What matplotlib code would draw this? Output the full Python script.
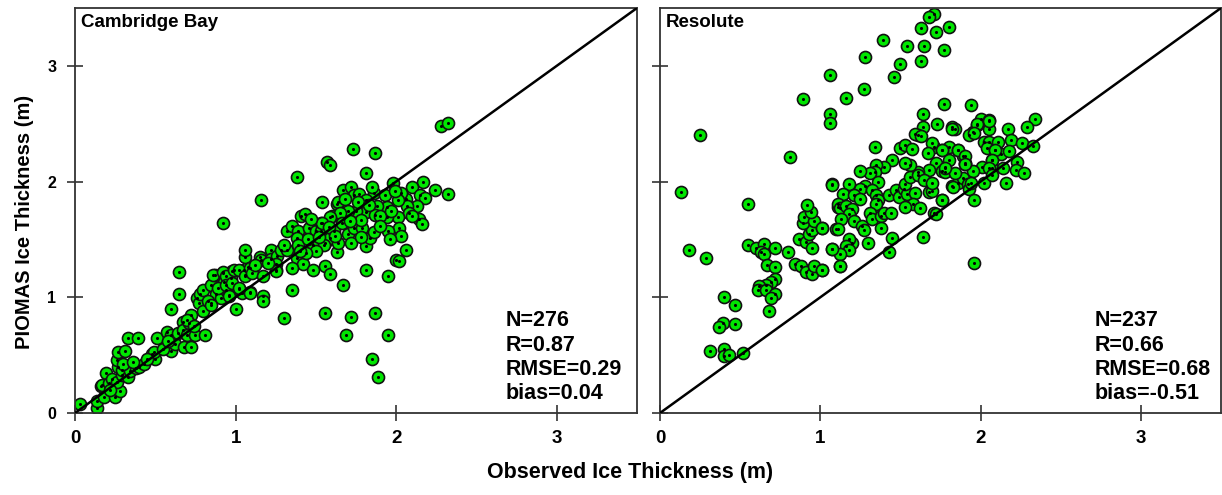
import numpy as np
import matplotlib
matplotlib.use("Agg")
import matplotlib.pyplot as plt

plt.rcParams['font.family'] = ['Liberation Sans', 'DejaVu Sans']
plt.rcParams['font.weight'] = 'bold'

# (observed, PIOMAS) pairs
cambridge = [
    (0.03, 0.08), (0.14, 0.04), (0.14, 0.10), (0.16, 0.23), (0.17, 0.24), (0.19, 0.35), (0.21, 0.26),
    (0.18, 0.14), (0.25, 0.14), (0.28, 0.19), (0.23, 0.29), (0.26, 0.27), (0.29, 0.33), (0.27, 0.40),
    (0.26, 0.46), (0.27, 0.53), (0.31, 0.54), (0.29, 0.37), (0.33, 0.31), (0.34, 0.36), (0.33, 0.65),
    (0.39, 0.65), (0.38, 0.39), (0.40, 0.40), (0.43, 0.42), (0.48, 0.51), (0.50, 0.47), (0.51, 0.65),
    (0.49, 0.53), (0.57, 0.70), (0.60, 0.67), (0.60, 0.54), (0.62, 0.60), (0.60, 0.90), (0.65, 1.03),
    (0.65, 1.22), (0.64, 0.69), (0.67, 0.79), (0.67, 0.72), (0.68, 0.57), (0.72, 0.57), (0.70, 0.67),
    (0.72, 0.85), (0.71, 0.78), (0.75, 0.67), (0.81, 0.67), (0.76, 0.99), (0.77, 0.95), (0.78, 1.03),
    (0.80, 0.88), (0.80, 1.06), (0.85, 1.11), (0.85, 0.95), (0.87, 1.19), (0.88, 1.03), (0.91, 0.99),
    (0.92, 1.21), (0.93, 1.13), (0.94, 1.06), (0.96, 1.02), (0.97, 1.17), (0.98, 1.23), (1.00, 0.90),
    (1.02, 1.07), (1.04, 1.04), (1.05, 1.24), (1.06, 1.19), (1.08, 1.26), (1.09, 1.05), (1.06, 1.35),
    (1.06, 1.41),
    (0.22, 0.20), (0.30, 0.42), (0.36, 0.44), (0.45, 0.47), (0.55, 0.55), (0.58, 0.62), (0.70, 0.80),
    (0.74, 0.75), (0.83, 0.97), (0.89, 1.08),
    (1.38, 2.04), (1.16, 1.84), (0.92, 1.64), (1.15, 1.35), (1.16, 1.32), (1.22, 1.41), (1.22, 1.33),
    (1.26, 1.36), (1.25, 1.29), (1.25, 1.24), (1.28, 1.41), (1.32, 1.41), (1.32, 1.57), (1.35, 1.62),
    (1.39, 1.57), (1.38, 1.51), (1.39, 1.45), (1.38, 1.34), (1.42, 1.29), (1.41, 1.70), (1.43, 1.72),
    (1.46, 1.60), (1.48, 1.45), (1.48, 1.24), (1.50, 1.57), (1.53, 1.64), (1.54, 1.82), (1.53, 1.57),
    (1.56, 1.27), (1.56, 0.86), (1.59, 1.20), (1.56, 1.47), (1.59, 1.51), (1.60, 1.70), (1.63, 1.39),
    (1.63, 1.81), (0.86, 1.19), (0.92, 1.22), (0.94, 1.18), (0.94, 1.11), (0.99, 1.24), (1.02, 1.24),
    (1.06, 1.18), (1.09, 1.25), (1.10, 1.21), (0.98, 1.12), (1.02, 1.08), (1.09, 1.04), (0.96, 1.01),
    (0.85, 0.93), (1.17, 1.18), (1.17, 1.01), (1.17, 0.97), (1.25, 1.23), (1.30, 0.82), (1.35, 1.06),
    (1.73, 2.28), (1.87, 2.25), (1.57, 2.17), (1.59, 2.14), (1.81, 2.07), (1.98, 1.99), (2.17, 2.00),
    (2.24, 1.93), (2.32, 1.89), (2.10, 1.95), (2.15, 1.88), (2.18, 1.86), (2.13, 1.79), (2.14, 1.68),
    (2.16, 1.63), (2.06, 1.85), (2.07, 1.79), (2.08, 1.73), (2.03, 1.90), (2.01, 1.84), (2.01, 1.69),
    (2.02, 1.60), (2.03, 1.53), (1.95, 1.57), (1.96, 1.50), (2.06, 1.41), (2.00, 1.32), (2.02, 1.31),
    (1.95, 1.18), (1.81, 1.24), (1.67, 1.11), (1.72, 0.83), (1.87, 0.86), (1.69, 0.67), (1.95, 0.67),
    (1.85, 0.47), (1.89, 0.31), (2.28, 2.48), (2.32, 2.51),
    (1.67, 1.93), (1.72, 1.95), (1.74, 1.88), (1.77, 1.89), (1.86, 1.90), (1.93, 1.88), (1.94, 1.78),
    (1.88, 1.79), (1.81, 1.74), (1.75, 1.75), (1.70, 1.75), (1.64, 1.82), (1.65, 1.73), (1.59, 1.69),
    (1.54, 1.64), (1.55, 1.45), (1.61, 1.57), (1.64, 1.47), (1.70, 1.55), (1.72, 1.47), (1.74, 1.60),
    (1.79, 1.60), (1.81, 1.44), (1.84, 1.51), (1.86, 1.56), (1.87, 1.71), (1.94, 1.69), (1.81, 1.84),
    (1.76, 1.82), (1.66, 1.64), (1.58, 1.61), (1.78, 1.67), (1.71, 1.66),
    (1.45, 1.50), (1.50, 1.40), (1.52, 1.52), (1.47, 1.68), (1.68, 1.85), (1.83, 1.80), (1.90, 1.70),
    (1.97, 1.75), (2.10, 1.70), (1.78, 1.52), (1.62, 1.53), (1.90, 1.62), (1.99, 1.92), (1.85, 1.95),
    (1.44, 1.38), (1.30, 1.45), (1.20, 1.30), (1.12, 1.28), (1.35, 1.25), (1.40, 1.40),
]

resolute = [
    (0.25, 2.40), (0.81, 2.21), (0.13, 1.91), (0.55, 1.81), (0.18, 1.41), (0.29, 1.34), (0.55, 1.45),
    (0.60, 1.43), (0.65, 1.46), (0.63, 1.39), (0.65, 1.37), (0.72, 1.43), (0.80, 1.39), (0.67, 1.28),
    (0.72, 1.26), (0.72, 1.16), (0.69, 1.13), (0.66, 1.11), (0.62, 1.10), (0.61, 1.06), (0.66, 1.06),
    (0.72, 1.03), (0.69, 0.99), (0.68, 0.88), (0.40, 1.00), (0.47, 0.93), (0.39, 0.78), (0.37, 0.74),
    (0.47, 0.77), (0.31, 0.54), (0.40, 0.55), (0.40, 0.49), (0.43, 0.50), (0.52, 0.52), (0.84, 1.29),
    (0.88, 1.27), (0.91, 1.22), (0.95, 1.20), (0.96, 1.27), (1.01, 1.24), (0.87, 1.50), (0.91, 1.48),
    (0.95, 1.43), (0.93, 1.55), (0.95, 1.58), (0.89, 1.64), (0.90, 1.69), (0.96, 1.66), (0.94, 1.74),
    (0.92, 1.80), (1.01, 1.60), (1.07, 1.98), (1.07, 1.42), (1.10, 1.59), (1.11, 1.78), (1.12, 1.27),
    (1.71, 3.45), (1.68, 3.42), (1.63, 3.33), (1.80, 3.34), (1.72, 3.29), (1.39, 3.22), (1.54, 3.17),
    (1.65, 3.17), (1.77, 3.14), (1.28, 3.08), (1.63, 3.04), (1.50, 3.02), (1.46, 2.90), (1.06, 2.92),
    (1.27, 2.80), (1.16, 2.72), (1.06, 2.58), (1.06, 2.51), (0.89, 2.71),
    (1.77, 2.67), (1.94, 2.66), (1.64, 2.58), (1.64, 2.47), (1.61, 2.40), (1.59, 2.41), (1.63, 2.39),
    (1.73, 2.50), (1.82, 2.47), (1.84, 2.45), (2.00, 2.54), (2.05, 2.53), (1.98, 2.49), (1.95, 2.43),
    (1.93, 2.40), (2.05, 2.45), (1.34, 2.30), (1.50, 2.29), (1.53, 2.32), (1.57, 2.28), (1.71, 2.30),
    (1.70, 2.33), (1.80, 2.30), (1.76, 2.27), (1.86, 2.27), (1.67, 2.25), (1.89, 2.22), (2.02, 2.34),
    (2.05, 2.34), (2.04, 2.29), (2.09, 2.27), (2.07, 2.19), (2.01, 2.13), (1.90, 2.15), (1.78, 2.13),
    (1.72, 2.16), (1.80, 2.19), (1.76, 2.09), (1.68, 2.10), (1.61, 2.08), (1.56, 2.14), (1.53, 2.16),
    (1.45, 2.19), (1.40, 2.13), (1.35, 2.14), (1.34, 2.08), (1.31, 2.07), (1.25, 2.09), (1.36, 2.00),
    (1.28, 1.96), (1.25, 1.94), (1.18, 1.98), (1.14, 1.89), (1.07, 1.97), (1.21, 1.88), (1.25, 1.85),
    (1.32, 1.93), (1.35, 1.88), (1.36, 1.84), (1.35, 1.81), (1.11, 1.81), (1.12, 1.77), (1.16, 1.79),
    (1.20, 1.76), (1.18, 1.72), (1.13, 1.68), (1.21, 1.66), (1.26, 1.62), (1.27, 1.58), (1.11, 1.59),
    (1.01, 1.60), (1.31, 1.73), (1.32, 1.68), (1.38, 1.70), (1.40, 1.73), (1.44, 1.73), (1.38, 1.60),
    (1.43, 1.88), (1.47, 1.93), (1.49, 1.87), (1.52, 1.94), (1.54, 1.89), (1.53, 1.98), (1.59, 1.90),
    (1.58, 1.81), (1.62, 1.77), (1.53, 1.78), (1.56, 2.04), (1.61, 2.06), (1.65, 2.01), (1.68, 1.91),
    (1.70, 1.92), (1.70, 1.99), (1.76, 1.84), (1.71, 1.73), (1.72, 1.72), (1.64, 1.52), (1.45, 1.51),
    (1.43, 1.39), (1.30, 1.47), (1.20, 1.47), (1.18, 1.50), (1.16, 1.44), (1.18, 1.41), (1.12, 1.37),
    (1.07, 1.42), (1.12, 1.27), (1.01, 1.24), (1.96, 1.30), (1.82, 1.96), (1.86, 1.99), (1.89, 2.03),
    (1.92, 1.98), (1.93, 1.94), (1.95, 2.09), (1.90, 2.16), (1.96, 1.84), (2.02, 1.99), (2.07, 2.12),
    (1.78, 2.08), (1.84, 2.07),
    (2.34, 2.54), (2.29, 2.47), (2.17, 2.45), (2.05, 2.52), (2.19, 2.36), (2.11, 2.34), (2.26, 2.33),
    (2.33, 2.31), (2.13, 2.24), (2.09, 2.27), (2.18, 2.26), (2.07, 2.19), (2.23, 2.17), (2.05, 2.12),
    (2.14, 2.12), (2.22, 2.10), (2.27, 2.07), (2.07, 2.06), (2.16, 1.99), (1.86, 2.27), (1.90, 2.22),
    (1.90, 2.15), (1.94, 1.99), (1.83, 1.95), (1.82, 2.45), (1.98, 2.50), (1.96, 2.42), (1.76, 2.27),
    (1.78, 2.12), (1.76, 1.84),
]

cb_stats = ["N=276", "R=0.87", "RMSE=0.29", "bias=0.04"]
res_stats = ["N=237", "R=0.66", "RMSE=0.68", "bias=-0.51"]
ticks = [0, 1, 2, 3]

fig = plt.figure(figsize=(12.22, 4.95), dpi=100)
ax1 = fig.add_axes([75 / 1222, 82 / 495, 562 / 1222, 405 / 495])
ax2 = fig.add_axes([660 / 1222, 82 / 495, 561 / 1222, 405 / 495])

panels = [(ax1, cambridge, "Cambridge Bay", cb_stats, 0.766),
          (ax2, resolute, "Resolute", res_stats, 0.775)]

for ax, pts, name, stats, tx in panels:
    obs, pio = np.array(pts).T
    ax.scatter(obs, pio, s=75, c='#00e600', edgecolors='#111111', linewidths=1.2, zorder=2)
    ax.scatter(obs, pio, s=1.5, c='black', zorder=3)
    ax.plot([0, 3.5], [0, 3.5], color='black', lw=1.8, zorder=4)
    ax.set_xlim(0, 3.5)
    ax.set_ylim(0, 3.5)
    ax.set_xticks(ticks)
    ax.set_yticks(ticks)
    ax.tick_params(direction='inout', length=11, width=1.2, color='#333333')
    ax.tick_params(axis='x', labelsize=13.5, pad=7)
    ax.tick_params(axis='y', labelsize=11.5, pad=8)
    for sp in ax.spines.values():
        sp.set_color('#333333')
        sp.set_linewidth(1.3)
    ax.text(0.01, 0.985, name, transform=ax.transAxes, fontsize=13.5,
            fontweight='bold', va='top', ha='left')
    ax.text(tx, 0.022, "\n".join(stats), transform=ax.transAxes, fontsize=15.5,
            fontweight='bold', va='bottom', ha='left', linespacing=1.2)

ax2.set_yticklabels([])
fig.text(25 / 1222, 1 - 222 / 495, "PIOMAS Ice Thickness (m)", rotation=90,
         ha='center', va='center', fontsize=14.5, fontweight='bold')
fig.text(630 / 1222, 0.046, "Observed Ice Thickness (m)", ha='center', va='center',
         fontsize=15.5, fontweight='bold')

fig.savefig("out.png", dpi=100)
